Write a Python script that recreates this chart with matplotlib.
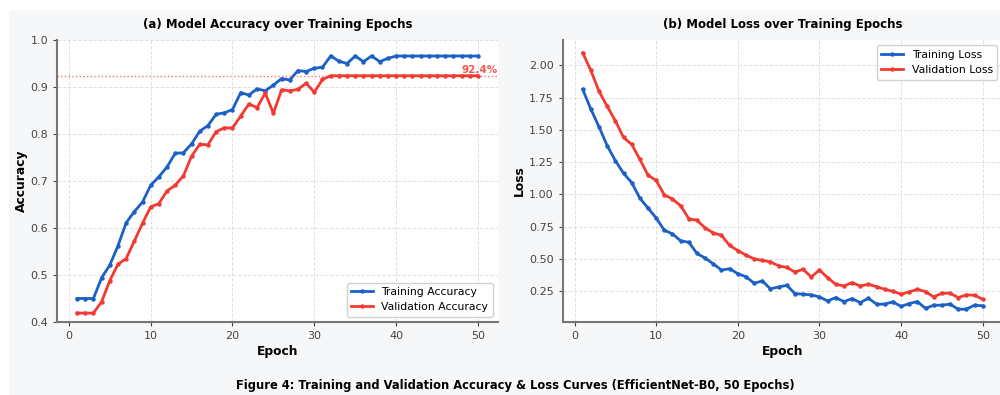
import matplotlib.pyplot as plt
from matplotlib.patches import Rectangle
import numpy as np

epochs = np.arange(1, 51)

train_acc = [0.450, 0.450, 0.450, 0.494, 0.521, 0.562, 0.611, 0.635, 0.655, 0.691,
             0.709, 0.730, 0.759, 0.760, 0.779, 0.806, 0.818, 0.842, 0.845, 0.852,
             0.888, 0.883, 0.896, 0.892, 0.904, 0.918, 0.915, 0.935, 0.933, 0.940,
             0.942, 0.966, 0.955, 0.950, 0.966, 0.954, 0.966, 0.954, 0.961, 0.966,
             0.966, 0.966, 0.966, 0.966, 0.966, 0.966, 0.966, 0.966, 0.966, 0.966]
val_acc = [0.419, 0.419, 0.419, 0.443, 0.488, 0.523, 0.535, 0.572, 0.610, 0.645,
           0.652, 0.679, 0.691, 0.711, 0.753, 0.778, 0.777, 0.805, 0.813, 0.813,
           0.838, 0.864, 0.856, 0.887, 0.844, 0.894, 0.892, 0.895, 0.908, 0.889,
           0.916, 0.924, 0.924, 0.924, 0.924, 0.924, 0.924, 0.924, 0.924, 0.924,
           0.924, 0.924, 0.924, 0.924, 0.924, 0.924, 0.924, 0.924, 0.924, 0.924]
train_loss = [1.815, 1.661, 1.524, 1.378, 1.262, 1.164, 1.092, 0.971, 0.894, 0.817,
              0.722, 0.694, 0.640, 0.629, 0.542, 0.506, 0.462, 0.413, 0.424, 0.385,
              0.362, 0.311, 0.329, 0.268, 0.282, 0.295, 0.231, 0.226, 0.221, 0.205,
              0.174, 0.200, 0.169, 0.192, 0.161, 0.195, 0.149, 0.149, 0.167, 0.131,
              0.154, 0.169, 0.116, 0.141, 0.141, 0.149, 0.110, 0.110, 0.141, 0.136]
val_loss = [2.098, 1.961, 1.799, 1.684, 1.571, 1.442, 1.388, 1.272, 1.149, 1.108,
            0.997, 0.964, 0.912, 0.812, 0.799, 0.740, 0.701, 0.683, 0.604, 0.565,
            0.529, 0.501, 0.488, 0.477, 0.446, 0.434, 0.398, 0.419, 0.360, 0.414,
            0.354, 0.303, 0.290, 0.316, 0.290, 0.303, 0.285, 0.264, 0.249, 0.226,
            0.244, 0.264, 0.246, 0.205, 0.234, 0.234, 0.200, 0.221, 0.218, 0.187]
best_val = 0.924

blue = '#1c60c6'
red = '#f23a32'

fig = plt.figure(figsize=(10, 3.95), dpi=100, facecolor='white')
fig.patches.append(Rectangle((0.009, 0.0), 0.991, 1 - 10 / 395, transform=fig.transFigure,
                             facecolor='#f6f7f9', edgecolor='none', zorder=-10))

ax1 = fig.add_axes([0.057, 0.1848, 0.441, 0.7139])
ax2 = fig.add_axes([0.5627, 0.1848, 0.44, 0.7139])

def style(ax):
    ax.set_facecolor('white')
    ax.spines['top'].set_visible(False)
    ax.spines['right'].set_visible(False)
    for s in ['left', 'bottom']:
        ax.spines[s].set_color('#777777')
        ax.spines[s].set_linewidth(1.5)
    ax.grid(True, linestyle='--', color='#cccccc', alpha=0.6, linewidth=0.7)
    ax.tick_params(labelsize=8, colors='#444444', length=3, width=0.8)
    ax.set_xlabel('Epoch', fontsize=8.8, fontweight='bold', labelpad=3)

# accuracy
ax1.plot(epochs, train_acc, color=blue, lw=2, marker='o', ms=2.2, label='Training Accuracy')
ax1.plot(epochs, val_acc, color=red, lw=2, marker='o', ms=2.2, label='Validation Accuracy')
ax1.axhline(best_val, color=red, ls=':', lw=1, alpha=0.7)
ax1.text(48, best_val + 0.002, f'{best_val * 100:.1f}%', color=red, alpha=0.85,
         fontsize=7.5, fontweight='bold', va='bottom')
ax1.set_ylim(0.4, 1.0)
ax1.set_xticks([0, 10, 20, 30, 40, 50])
ax1.set_ylabel('Accuracy', fontsize=8.8, fontweight='bold', labelpad=2)
ax1.set_title('(a) Model Accuracy over Training Epochs', fontsize=8.5, fontweight='bold', pad=9)
style(ax1)
ax1.legend(loc='lower right', fontsize=7.8, framealpha=0.9, edgecolor='#cccccc')

# loss
ax2.plot(epochs, train_loss, color=blue, lw=2, marker='o', ms=2.2, label='Training Loss')
ax2.plot(epochs, val_loss, color=red, lw=2, marker='o', ms=2.2, label='Validation Loss')
ax2.set_xticks([0, 10, 20, 30, 40, 50])
ax2.set_ylabel('Loss', fontsize=8.8, fontweight='bold', labelpad=2)
ax2.set_title('(b) Model Loss over Training Epochs', fontsize=8.5, fontweight='bold', pad=9)
style(ax2)
ax2.legend(loc='upper right', fontsize=7.8, framealpha=0.9, edgecolor='#cccccc')

fig.text(0.515, 0.008, 'Figure 4: Training and Validation Accuracy & Loss Curves (EfficientNet-B0, 50 Epochs)',
         ha='center', va='bottom', fontsize=8.3, fontweight='bold')

fig.savefig('out.png', dpi=100, facecolor=fig.get_facecolor())
